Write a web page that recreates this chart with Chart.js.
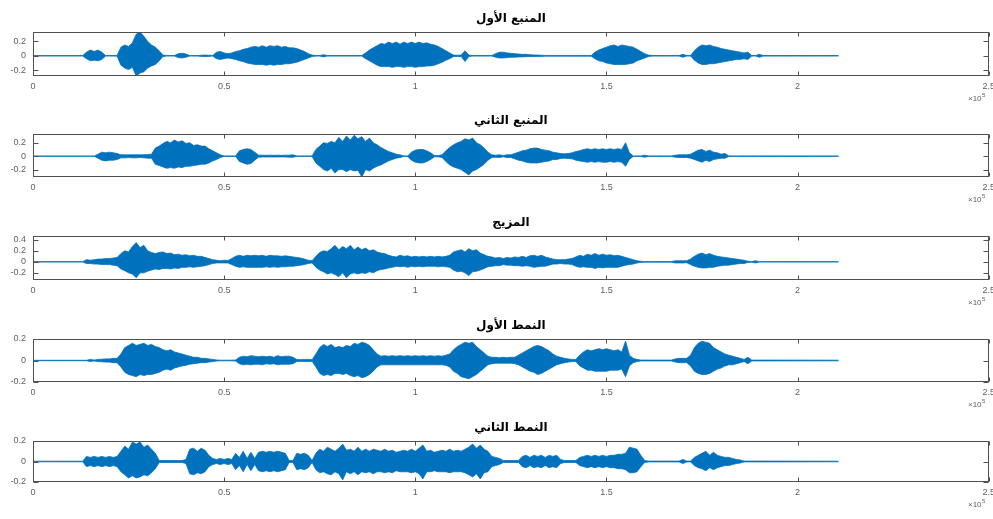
<!DOCTYPE html>
<html>
<head>
<meta charset="utf-8">
<script src="https://cdn.jsdelivr.net/npm/chart.js@4.4.1/dist/chart.umd.min.js"></script>
<style>
  html, body { margin: 0; padding: 0; background: #ffffff; overflow: hidden; width: 993px; height: 519px; }
  canvas { position: absolute; left: 0; }
</style>
</head>
<body>
<canvas id="panel0" width="1000" height="110"></canvas>
<canvas id="panel1" width="1000" height="110"></canvas>
<canvas id="panel2" width="1000" height="110"></canvas>
<canvas id="panel3" width="1000" height="110"></canvas>
<canvas id="panel4" width="1000" height="110"></canvas>
<script>
// Sample positions (x 10^5 samples) at which each waveform envelope is given.
const SAMPLE_POS = [
  0, 0.13, 0.14, 0.15, 0.16, 0.17, 0.18, 0.19,
  0.20, 0.21, 0.22, 0.23, 0.24, 0.25, 0.26, 0.27, 0.28, 0.29,
  0.30, 0.31, 0.32, 0.33, 0.34, 0.35, 0.36, 0.37, 0.38, 0.39,
  0.40, 0.41, 0.42, 0.43, 0.44, 0.45, 0.46, 0.47, 0.48, 0.49,
  0.50, 0.51, 0.52, 0.53, 0.54, 0.55, 0.56, 0.57, 0.58, 0.59,
  0.60, 0.61, 0.62, 0.63, 0.64, 0.65, 0.66, 0.67, 0.68, 0.69,
  0.70, 0.71, 0.72, 0.73, 0.74, 0.75, 0.76, 0.77, 0.78, 0.79,
  0.80, 0.81, 0.82, 0.83, 0.84, 0.85, 0.86, 0.87, 0.88, 0.89,
  0.90, 0.91, 0.92, 0.93, 0.94, 0.95, 0.96, 0.97, 0.98, 0.99,
  1.00, 1.01, 1.02, 1.03, 1.04, 1.05, 1.06, 1.07, 1.08, 1.09,
  1.10, 1.11, 1.12, 1.13, 1.14, 1.15, 1.16, 1.17, 1.18, 1.19,
  1.20, 1.21, 1.22, 1.23, 1.24, 1.25, 1.26, 1.27, 1.28, 1.29,
  1.30, 1.31, 1.32, 1.33, 1.34, 1.35, 1.36, 1.37, 1.38, 1.39,
  1.40, 1.41, 1.42, 1.43, 1.44, 1.45, 1.46, 1.47, 1.48, 1.49,
  1.50, 1.51, 1.52, 1.53, 1.54, 1.55, 1.56, 1.57, 1.58, 1.59,
  1.60, 1.61, 1.62, 1.63, 1.64, 1.65, 1.66, 1.67, 1.68, 1.69,
  1.70, 1.71, 1.72, 1.73, 1.74, 1.75, 1.76, 1.77, 1.78, 1.79,
  1.80, 1.81, 1.82, 1.83, 1.84, 1.85, 1.86, 1.87, 1.88, 1.89,
  1.90, 1.91, 2.107
];

// Source 1: upper / lower envelope
const SOURCE1_HI = [
  0.003, 0.003, 0.05, 0.08, 0.06, 0.08, 0.05, 0.004,
  0.004, 0.004, 0.005, 0.12, 0.15, 0.13, 0.18, 0.30, 0.33, 0.27,
  0.20, 0.15, 0.12, 0.07, 0.01, 0.004, 0.004, 0.004, 0.03, 0.035,
  0.025, 0.004, 0.004, 0.004, 0.008, 0.01, 0.008, 0.004, 0.05, 0.06,
  0.04, 0.03, 0.04, 0.06, 0.07, 0.09, 0.10, 0.12, 0.13, 0.12,
  0.14, 0.12, 0.14, 0.13, 0.14, 0.12, 0.13, 0.11, 0.11, 0.10,
  0.08, 0.06, 0.03, 0.01, 0.004, 0.004, 0.015, 0.004, 0.004, 0.004,
  0.004, 0.004, 0.004, 0.004, 0.004, 0.004, 0.004, 0.04, 0.08, 0.11,
  0.14, 0.17, 0.16, 0.19, 0.17, 0.19, 0.16, 0.19, 0.17, 0.19,
  0.17, 0.19, 0.17, 0.18, 0.16, 0.15, 0.13, 0.10, 0.07, 0.04,
  0.01, 0.008, 0.01, 0.07, 0.01, 0.004, 0.004, 0.004, 0.004, 0.004,
  0.004, 0.03, 0.05, 0.05, 0.04, 0.035, 0.03, 0.025, 0.02, 0.02,
  0.015, 0.012, 0.01, 0.008, 0.005, 0.005, 0.005, 0.005, 0.005, 0.005,
  0.005, 0.005, 0.005, 0.005, 0.005, 0.005, 0.005, 0.05, 0.08, 0.10,
  0.12, 0.14, 0.15, 0.13, 0.15, 0.14, 0.13, 0.12, 0.09, 0.06,
  0.03, 0.01, 0.004, 0.004, 0.004, 0.004, 0.004, 0.004, 0.004, 0.004,
  0.02, 0.004, 0.004, 0.07, 0.12, 0.15, 0.14, 0.15, 0.13, 0.12,
  0.10, 0.09, 0.08, 0.07, 0.06, 0.05, 0.04, 0.05, 0.004, 0.004,
  0.02, 0.004, 0.003
];
const SOURCE1_LO = [
  -0.003, -0.003, -0.04, -0.07, -0.06, -0.07, -0.05, -0.004,
  -0.004, -0.004, -0.005, -0.13, -0.17, -0.19, -0.16, -0.28, -0.24, -0.22,
  -0.17, -0.14, -0.12, -0.07, -0.01, -0.004, -0.004, -0.004, -0.025, -0.03,
  -0.02, -0.004, -0.004, -0.004, -0.008, -0.01, -0.008, -0.004, -0.04, -0.05,
  -0.04, -0.03, -0.04, -0.05, -0.07, -0.08, -0.10, -0.11, -0.12, -0.12,
  -0.12, -0.13, -0.12, -0.13, -0.12, -0.12, -0.11, -0.11, -0.10, -0.09,
  -0.07, -0.05, -0.03, -0.01, -0.004, -0.004, -0.015, -0.004, -0.004, -0.004,
  -0.004, -0.004, -0.004, -0.004, -0.004, -0.004, -0.004, -0.04, -0.07, -0.10,
  -0.13, -0.15, -0.15, -0.15, -0.16, -0.15, -0.15, -0.16, -0.15, -0.15,
  -0.16, -0.15, -0.15, -0.14, -0.14, -0.13, -0.11, -0.09, -0.06, -0.04,
  -0.01, -0.008, -0.01, -0.08, -0.01, -0.004, -0.004, -0.004, -0.004, -0.004,
  -0.004, -0.02, -0.03, -0.03, -0.025, -0.02, -0.02, -0.015, -0.015, -0.012,
  -0.01, -0.01, -0.008, -0.008, -0.005, -0.005, -0.005, -0.005, -0.005, -0.005,
  -0.005, -0.005, -0.005, -0.005, -0.005, -0.005, -0.005, -0.04, -0.07, -0.08,
  -0.10, -0.11, -0.12, -0.12, -0.12, -0.12, -0.11, -0.10, -0.07, -0.05,
  -0.03, -0.01, -0.004, -0.004, -0.004, -0.004, -0.004, -0.004, -0.004, -0.004,
  -0.02, -0.004, -0.004, -0.06, -0.10, -0.12, -0.12, -0.11, -0.11, -0.10,
  -0.09, -0.08, -0.07, -0.06, -0.05, -0.05, -0.04, -0.05, -0.004, -0.004,
  -0.02, -0.004, -0.003
];

// Source 2
const SOURCE2_HI = [
  0.003, 0.003, 0.003, 0.003, 0.003, 0.03, 0.06, 0.05,
  0.06, 0.05, 0.04, 0.02, 0.02, 0.02, 0.02, 0.02, 0.02, 0.02,
  0.025, 0.03, 0.12, 0.15, 0.19, 0.22, 0.20, 0.24, 0.21, 0.23,
  0.19, 0.20, 0.16, 0.17, 0.15, 0.15, 0.11, 0.08, 0.05, 0.02,
  0.004, 0.004, 0.004, 0.004, 0.08, 0.10, 0.11, 0.10, 0.06, 0.015,
  0.015, 0.012, 0.015, 0.012, 0.015, 0.012, 0.015, 0.015, 0.02, 0.004,
  0.004, 0.004, 0.004, 0.004, 0.10, 0.15, 0.20, 0.19, 0.22, 0.20,
  0.28, 0.22, 0.30, 0.24, 0.31, 0.26, 0.29, 0.22, 0.27, 0.20,
  0.17, 0.13, 0.10, 0.07, 0.05, 0.03, 0.02, 0.004, 0.004, 0.06,
  0.09, 0.10, 0.10, 0.08, 0.05, 0.01, 0.01, 0.02, 0.08, 0.13,
  0.17, 0.20, 0.22, 0.26, 0.24, 0.27, 0.20, 0.17, 0.12, 0.06,
  0.02, 0.015, 0.02, 0.01, 0.02, 0.02, 0.04, 0.06, 0.08, 0.09,
  0.11, 0.12, 0.12, 0.10, 0.09, 0.08, 0.06, 0.05, 0.04, 0.035,
  0.04, 0.05, 0.07, 0.08, 0.10, 0.11, 0.10, 0.11, 0.10, 0.11,
  0.10, 0.11, 0.10, 0.11, 0.10, 0.20, 0.05, 0.004, 0.004, 0.004,
  0.015, 0.004, 0.004, 0.004, 0.004, 0.004, 0.004, 0.004, 0.015, 0.02,
  0.02, 0.02, 0.03, 0.06, 0.09, 0.10, 0.07, 0.09, 0.06, 0.05,
  0.03, 0.04, 0.004, 0.004, 0.004, 0.004, 0.004, 0.004, 0.004, 0.004,
  0.004, 0.004, 0.003
];
const SOURCE2_LO = [
  -0.003, -0.003, -0.003, -0.003, -0.003, -0.03, -0.06, -0.07,
  -0.06, -0.06, -0.05, -0.025, -0.025, -0.02, -0.025, -0.025, -0.02, -0.025,
  -0.03, -0.03, -0.12, -0.14, -0.16, -0.18, -0.17, -0.18, -0.16, -0.17,
  -0.15, -0.15, -0.14, -0.13, -0.12, -0.12, -0.10, -0.07, -0.05, -0.02,
  -0.004, -0.004, -0.004, -0.004, -0.08, -0.10, -0.12, -0.11, -0.06, -0.015,
  -0.012, -0.012, -0.012, -0.012, -0.012, -0.012, -0.012, -0.015, -0.015, -0.004,
  -0.004, -0.004, -0.004, -0.004, -0.10, -0.15, -0.20, -0.22, -0.18, -0.25,
  -0.20, -0.20, -0.23, -0.20, -0.22, -0.21, -0.31, -0.20, -0.22, -0.18,
  -0.15, -0.13, -0.10, -0.07, -0.05, -0.03, -0.02, -0.004, -0.004, -0.06,
  -0.09, -0.10, -0.10, -0.08, -0.05, -0.01, -0.01, -0.02, -0.08, -0.13,
  -0.16, -0.18, -0.20, -0.24, -0.28, -0.22, -0.20, -0.16, -0.12, -0.06,
  -0.02, -0.015, -0.02, -0.01, -0.02, -0.02, -0.04, -0.06, -0.07, -0.09,
  -0.10, -0.10, -0.10, -0.09, -0.08, -0.07, -0.05, -0.05, -0.035, -0.03,
  -0.035, -0.04, -0.06, -0.07, -0.08, -0.09, -0.08, -0.09, -0.08, -0.09,
  -0.09, -0.08, -0.09, -0.08, -0.09, -0.15, -0.05, -0.004, -0.004, -0.004,
  -0.015, -0.004, -0.004, -0.004, -0.004, -0.004, -0.004, -0.004, -0.015, -0.02,
  -0.02, -0.02, -0.03, -0.05, -0.07, -0.09, -0.06, -0.08, -0.05, -0.04,
  -0.03, -0.03, -0.004, -0.004, -0.004, -0.004, -0.004, -0.004, -0.004, -0.004,
  -0.004, -0.004, -0.003
];

// Mixture
const MIXTURE_HI = [
  0.003, 0.003, 0.04, 0.03, 0.04, 0.05, 0.05, 0.06,
  0.06, 0.07, 0.08, 0.15, 0.20, 0.18, 0.28, 0.35, 0.26, 0.30,
  0.20, 0.17, 0.15, 0.17, 0.18, 0.15, 0.16, 0.13, 0.14, 0.12,
  0.13, 0.11, 0.12, 0.10, 0.10, 0.08, 0.06, 0.04, 0.03, 0.02,
  0.03, 0.025, 0.06, 0.10, 0.12, 0.10, 0.12, 0.11, 0.12, 0.11,
  0.12, 0.10, 0.12, 0.11, 0.11, 0.10, 0.11, 0.10, 0.09, 0.08,
  0.07, 0.05, 0.03, 0.02, 0.10, 0.17, 0.20, 0.19, 0.24, 0.30,
  0.22, 0.28, 0.24, 0.30, 0.22, 0.27, 0.22, 0.25, 0.20, 0.22,
  0.18, 0.16, 0.15, 0.12, 0.10, 0.09, 0.12, 0.10, 0.11, 0.09,
  0.10, 0.09, 0.10, 0.09, 0.10, 0.09, 0.10, 0.09, 0.10, 0.12,
  0.18, 0.20, 0.22, 0.18, 0.24, 0.20, 0.22, 0.16, 0.13, 0.10,
  0.09, 0.07, 0.08, 0.06, 0.08, 0.07, 0.09, 0.08, 0.10, 0.08,
  0.11, 0.12, 0.10, 0.12, 0.09, 0.07, 0.05, 0.04, 0.04, 0.04,
  0.05, 0.06, 0.09, 0.12, 0.10, 0.14, 0.12, 0.15, 0.12, 0.14,
  0.12, 0.13, 0.11, 0.12, 0.10, 0.08, 0.06, 0.04, 0.02, 0.01,
  0.005, 0.005, 0.005, 0.005, 0.005, 0.005, 0.005, 0.005, 0.02, 0.02,
  0.02, 0.02, 0.05, 0.10, 0.14, 0.16, 0.13, 0.15, 0.12, 0.10,
  0.09, 0.08, 0.07, 0.06, 0.05, 0.04, 0.03, 0.01, 0.005, 0.02,
  0.004, 0.004, 0.003
];
const MIXTURE_LO = [
  -0.003, -0.003, -0.03, -0.03, -0.04, -0.04, -0.05, -0.05,
  -0.05, -0.06, -0.07, -0.13, -0.16, -0.20, -0.22, -0.29, -0.20, -0.20,
  -0.17, -0.15, -0.13, -0.14, -0.12, -0.12, -0.13, -0.11, -0.12, -0.10,
  -0.10, -0.09, -0.10, -0.09, -0.08, -0.07, -0.05, -0.03, -0.02, -0.02,
  -0.02, -0.02, -0.05, -0.08, -0.10, -0.09, -0.10, -0.10, -0.10, -0.10,
  -0.10, -0.09, -0.10, -0.09, -0.10, -0.09, -0.09, -0.08, -0.08, -0.07,
  -0.06, -0.05, -0.03, -0.02, -0.10, -0.15, -0.18, -0.22, -0.20, -0.23,
  -0.27, -0.20, -0.29, -0.22, -0.20, -0.22, -0.20, -0.21, -0.18, -0.20,
  -0.16, -0.14, -0.13, -0.11, -0.10, -0.08, -0.09, -0.08, -0.10, -0.08,
  -0.09, -0.08, -0.09, -0.08, -0.08, -0.08, -0.09, -0.08, -0.09, -0.10,
  -0.15, -0.18, -0.17, -0.20, -0.25, -0.18, -0.17, -0.15, -0.12, -0.09,
  -0.08, -0.07, -0.07, -0.05, -0.06, -0.06, -0.07, -0.07, -0.08, -0.07,
  -0.08, -0.10, -0.09, -0.08, -0.08, -0.06, -0.04, -0.04, -0.03, -0.04,
  -0.04, -0.05, -0.08, -0.10, -0.09, -0.10, -0.10, -0.12, -0.10, -0.11,
  -0.10, -0.10, -0.10, -0.10, -0.08, -0.06, -0.05, -0.04, -0.02, -0.01,
  -0.005, -0.005, -0.005, -0.005, -0.005, -0.005, -0.005, -0.005, -0.02, -0.02,
  -0.02, -0.015, -0.05, -0.08, -0.10, -0.11, -0.11, -0.10, -0.10, -0.08,
  -0.07, -0.06, -0.06, -0.05, -0.04, -0.03, -0.03, -0.01, -0.005, -0.02,
  -0.004, -0.004, -0.003
];

// Pattern 1
const PATTERN1_HI = [
  0.002, 0.002, 0.002, 0.01, 0.004, 0.01, 0.012, 0.015,
  0.015, 0.02, 0.02, 0.06, 0.12, 0.14, 0.16, 0.14, 0.15, 0.16,
  0.14, 0.15, 0.13, 0.12, 0.10, 0.09, 0.10, 0.08, 0.07, 0.06,
  0.05, 0.04, 0.03, 0.03, 0.02, 0.02, 0.015, 0.01, 0.005, 0.003,
  0.003, 0.003, 0.003, 0.005, 0.03, 0.04, 0.035, 0.045, 0.04, 0.035,
  0.04, 0.035, 0.04, 0.03, 0.045, 0.035, 0.04, 0.04, 0.03, 0.01,
  0.008, 0.01, 0.01, 0.008, 0.06, 0.12, 0.15, 0.13, 0.15, 0.12,
  0.13, 0.12, 0.14, 0.13, 0.16, 0.15, 0.17, 0.16, 0.14, 0.10,
  0.06, 0.04, 0.045, 0.04, 0.045, 0.04, 0.045, 0.04, 0.045, 0.04,
  0.045, 0.04, 0.045, 0.04, 0.045, 0.04, 0.045, 0.04, 0.05, 0.06,
  0.10, 0.13, 0.15, 0.17, 0.16, 0.17, 0.13, 0.10, 0.07, 0.04,
  0.03, 0.03, 0.025, 0.03, 0.025, 0.03, 0.03, 0.05, 0.07, 0.09,
  0.11, 0.13, 0.14, 0.13, 0.11, 0.09, 0.06, 0.04, 0.03, 0.02,
  0.015, 0.01, 0.01, 0.05, 0.08, 0.10, 0.09, 0.10, 0.11, 0.10,
  0.11, 0.10, 0.09, 0.10, 0.08, 0.18, 0.05, 0.02, 0.01, 0.004,
  0.004, 0.004, 0.004, 0.004, 0.004, 0.004, 0.004, 0.004, 0.015, 0.02,
  0.02, 0.02, 0.05, 0.12, 0.16, 0.18, 0.17, 0.16, 0.12, 0.10,
  0.08, 0.06, 0.05, 0.04, 0.03, 0.02, 0.01, 0.03, 0.004, 0.004,
  0.004, 0.004, 0.003
];
const PATTERN1_LO = [
  -0.002, -0.002, -0.002, -0.01, -0.004, -0.01, -0.012, -0.015,
  -0.015, -0.02, -0.02, -0.06, -0.11, -0.13, -0.14, -0.15, -0.13, -0.14,
  -0.13, -0.13, -0.12, -0.11, -0.09, -0.08, -0.09, -0.07, -0.06, -0.05,
  -0.045, -0.035, -0.03, -0.025, -0.02, -0.02, -0.015, -0.01, -0.005, -0.003,
  -0.003, -0.003, -0.003, -0.005, -0.03, -0.04, -0.035, -0.04, -0.035, -0.035,
  -0.04, -0.03, -0.035, -0.03, -0.04, -0.035, -0.035, -0.035, -0.03, -0.01,
  -0.008, -0.01, -0.01, -0.008, -0.06, -0.12, -0.14, -0.13, -0.14, -0.12,
  -0.12, -0.13, -0.12, -0.14, -0.15, -0.14, -0.16, -0.15, -0.13, -0.10,
  -0.06, -0.04, -0.04, -0.04, -0.04, -0.04, -0.04, -0.04, -0.04, -0.04,
  -0.04, -0.04, -0.04, -0.04, -0.04, -0.04, -0.04, -0.04, -0.045, -0.06,
  -0.10, -0.12, -0.15, -0.16, -0.17, -0.15, -0.13, -0.10, -0.07, -0.04,
  -0.03, -0.025, -0.025, -0.025, -0.025, -0.025, -0.03, -0.04, -0.06, -0.08,
  -0.10, -0.11, -0.13, -0.12, -0.10, -0.08, -0.06, -0.04, -0.03, -0.02,
  -0.015, -0.01, -0.01, -0.05, -0.07, -0.09, -0.09, -0.10, -0.10, -0.10,
  -0.10, -0.09, -0.09, -0.09, -0.08, -0.15, -0.05, -0.02, -0.01, -0.004,
  -0.004, -0.004, -0.004, -0.004, -0.004, -0.004, -0.004, -0.004, -0.015, -0.02,
  -0.02, -0.02, -0.05, -0.10, -0.12, -0.13, -0.13, -0.12, -0.10, -0.08,
  -0.07, -0.05, -0.04, -0.04, -0.03, -0.02, -0.01, -0.03, -0.004, -0.004,
  -0.004, -0.004, -0.003
];

// Pattern 2
const PATTERN2_HI = [
  0.003, 0.003, 0.05, 0.04, 0.05, 0.04, 0.05, 0.04,
  0.05, 0.04, 0.05, 0.10, 0.15, 0.12, 0.19, 0.17, 0.19, 0.14,
  0.16, 0.12, 0.08, 0.01, 0.01, 0.01, 0.01, 0.01, 0.01, 0.01,
  0.02, 0.12, 0.13, 0.10, 0.13, 0.11, 0.06, 0.03, 0.02, 0.03,
  0.02, 0.03, 0.02, 0.08, 0.04, 0.10, 0.03, 0.09, 0.03, 0.09,
  0.10, 0.09, 0.10, 0.09, 0.10, 0.09, 0.08, 0.01, 0.01, 0.08,
  0.07, 0.08, 0.06, 0.01, 0.08, 0.12, 0.10, 0.14, 0.12, 0.10,
  0.13, 0.17, 0.11, 0.12, 0.10, 0.14, 0.10, 0.12, 0.10, 0.12,
  0.11, 0.10, 0.12, 0.10, 0.11, 0.09, 0.10, 0.11, 0.10, 0.12,
  0.10, 0.13, 0.16, 0.10, 0.11, 0.09, 0.10, 0.11, 0.10, 0.12,
  0.10, 0.11, 0.10, 0.12, 0.14, 0.17, 0.13, 0.16, 0.12, 0.10,
  0.05, 0.04, 0.03, 0.01, 0.01, 0.01, 0.01, 0.01, 0.05, 0.06,
  0.04, 0.06, 0.05, 0.06, 0.04, 0.06, 0.05, 0.06, 0.02, 0.01,
  0.01, 0.01, 0.01, 0.04, 0.05, 0.06, 0.05, 0.06, 0.05, 0.06,
  0.05, 0.06, 0.06, 0.07, 0.07, 0.08, 0.14, 0.13, 0.12, 0.06,
  0.01, 0.004, 0.004, 0.004, 0.004, 0.004, 0.004, 0.004, 0.004, 0.004,
  0.02, 0.004, 0.004, 0.04, 0.06, 0.08, 0.10, 0.06, 0.09, 0.06,
  0.05, 0.04, 0.04, 0.03, 0.02, 0.015, 0.004, 0.004, 0.004, 0.004,
  0.004, 0.004, 0.003
];
const PATTERN2_LO = [
  -0.003, -0.003, -0.05, -0.04, -0.05, -0.04, -0.05, -0.04,
  -0.05, -0.04, -0.05, -0.10, -0.13, -0.16, -0.14, -0.16, -0.15, -0.13,
  -0.14, -0.11, -0.07, -0.01, -0.01, -0.01, -0.01, -0.01, -0.01, -0.01,
  -0.02, -0.12, -0.13, -0.11, -0.12, -0.10, -0.05, -0.03, -0.02, -0.03,
  -0.02, -0.03, -0.02, -0.08, -0.04, -0.10, -0.03, -0.09, -0.03, -0.09,
  -0.10, -0.09, -0.10, -0.09, -0.10, -0.09, -0.08, -0.01, -0.01, -0.08,
  -0.07, -0.08, -0.06, -0.01, -0.08, -0.11, -0.10, -0.12, -0.13, -0.10,
  -0.12, -0.18, -0.10, -0.12, -0.10, -0.13, -0.10, -0.11, -0.10, -0.12,
  -0.10, -0.10, -0.11, -0.10, -0.11, -0.09, -0.10, -0.10, -0.10, -0.11,
  -0.10, -0.12, -0.17, -0.10, -0.10, -0.09, -0.10, -0.10, -0.10, -0.11,
  -0.10, -0.10, -0.10, -0.11, -0.13, -0.15, -0.12, -0.17, -0.11, -0.10,
  -0.05, -0.04, -0.03, -0.01, -0.01, -0.01, -0.01, -0.01, -0.05, -0.06,
  -0.04, -0.06, -0.05, -0.06, -0.04, -0.06, -0.05, -0.06, -0.02, -0.01,
  -0.01, -0.01, -0.01, -0.04, -0.05, -0.06, -0.05, -0.06, -0.05, -0.06,
  -0.05, -0.06, -0.06, -0.07, -0.07, -0.08, -0.11, -0.11, -0.10, -0.05,
  -0.01, -0.004, -0.004, -0.004, -0.004, -0.004, -0.004, -0.004, -0.004, -0.004,
  -0.02, -0.004, -0.004, -0.04, -0.06, -0.07, -0.09, -0.06, -0.08, -0.06,
  -0.05, -0.04, -0.04, -0.03, -0.02, -0.015, -0.004, -0.004, -0.004, -0.004,
  -0.004, -0.004, -0.003
];

const PANEL_TITLES = ['المنبع الأول', 'المنبع الثاني', 'المزيج', 'النمط الأول', 'النمط الثاني'];
const Y_LIMITS = [[-0.28, 0.33], [-0.31, 0.33], [-0.33, 0.47], [-0.2, 0.2], [-0.2, 0.2]];
const Y_TICKS = [[-0.2, 0, 0.2], [-0.2, 0, 0.2], [-0.2, 0, 0.2, 0.4], [-0.2, 0, 0.2], [-0.2, 0, 0.2]];
const X_TICKS = [0, 0.5, 1, 1.5, 2, 2.5];
const X_LIMITS = [0, 2.5];
const X_EXPONENT = '5';

const ENVELOPES = [
  [SOURCE1_HI, SOURCE1_LO],
  [SOURCE2_HI, SOURCE2_LO],
  [MIXTURE_HI, MIXTURE_LO],
  [PATTERN1_HI, PATTERN1_LO],
  [PATTERN2_HI, PATTERN2_LO]
];

// Page layout
const CANVAS_TOPS = [0, 102, 204, 307, 409];
const BOX_HEIGHTS = [44, 43, 44, 43, 41];
const CANVAS_H = 110;
const TITLE_BLOCK = 32;
const AXIS_LEFT = 33;
const WAVE_BLUE = '#0072BD';
const FRAME_COLOR = '#505050';
const LABEL_COLOR = '#5e5e5e';

// Box around each axes with inward tick marks and the x10^n multiplier
const axesFrame = {
  id: 'axesFrame',
  afterDatasetsDraw(chart) {
    const { ctx, chartArea: a } = chart;
    const xs = chart.scales.x, ys = chart.scales.y;
    const L = Math.round(a.left) + 0.5, R = Math.round(a.right) - 0.5;
    const T = Math.round(a.top) + 0.5, B = Math.round(a.bottom) - 0.5;
    ctx.save();
    ctx.strokeStyle = FRAME_COLOR;
    ctx.lineWidth = 1;
    ctx.strokeRect(L, T, R - L, B - T);
    ctx.beginPath();
    xs.ticks.forEach(t => {
      const px = Math.round(xs.getPixelForValue(t.value)) + 0.5;
      ctx.moveTo(px, B); ctx.lineTo(px, B - 4);
      ctx.moveTo(px, T); ctx.lineTo(px, T + 4);
    });
    ys.ticks.forEach(t => {
      const py = Math.round(ys.getPixelForValue(t.value)) + 0.5;
      ctx.moveTo(L, py); ctx.lineTo(L + 5, py);
      ctx.moveTo(R, py); ctx.lineTo(R - 5, py);
    });
    ctx.stroke();
    ctx.fillStyle = LABEL_COLOR;
    ctx.textAlign = 'left';
    ctx.textBaseline = 'alphabetic';
    ctx.font = '8px "Liberation Sans", Arial, sans-serif';
    const ex = 968, ey = a.bottom + 25;
    ctx.fillText('\u00d710', ex, ey);
    const w = ctx.measureText('\u00d710').width;
    ctx.font = '6px "Liberation Sans", Arial, sans-serif';
    ctx.fillText(X_EXPONENT, ex + w + 0.5, ey - 4);
    ctx.restore();
  }
};

PANEL_TITLES.forEach((title, i) => {
  const canvas = document.getElementById('panel' + i);
  canvas.style.top = CANVAS_TOPS[i] + 'px';
  const [hi, lo] = ENVELOPES[i];
  const boxH = BOX_HEIGHTS[i];
  const lineStyle = {
    borderColor: WAVE_BLUE,
    backgroundColor: WAVE_BLUE,
    borderWidth: 0.8,
    pointRadius: 0,
    tension: 0
  };
  new Chart(canvas.getContext('2d'), {
    type: 'line',
    data: {
      datasets: [
        Object.assign({ data: SAMPLE_POS.map((x, k) => ({ x, y: hi[k] })), fill: '+1' }, lineStyle),
        Object.assign({ data: SAMPLE_POS.map((x, k) => ({ x, y: lo[k] })), fill: false }, lineStyle)
      ]
    },
    options: {
      responsive: false,
      animation: false,
      devicePixelRatio: 1,
      events: [],
      layout: { padding: { left: 0, right: 10, top: 0, bottom: 0 } },
      plugins: {
        legend: { display: false },
        tooltip: { enabled: false },
        title: {
          display: true,
          text: title,
          fullSize: false,
          color: '#000000',
          font: { family: '"DejaVu Sans", sans-serif', size: 12, weight: 'bold', lineHeight: 1.2 },
          padding: { top: 12, bottom: 5.6 }
        }
      },
      scales: {
        x: {
          type: 'linear',
          min: X_LIMITS[0],
          max: X_LIMITS[1],
          grid: { display: false, drawTicks: false },
          border: { display: false },
          ticks: {
            padding: 5,
            maxRotation: 0,
            autoSkip: false,
            color: LABEL_COLOR,
            font: { family: '"Liberation Sans", Arial, sans-serif', size: 9 },
            callback: v => String(v)
          },
          afterBuildTicks: s => { s.ticks = X_TICKS.map(v => ({ value: v })); },
          afterFit: s => { s.height = CANVAS_H - TITLE_BLOCK - boxH; }
        },
        y: {
          type: 'linear',
          min: Y_LIMITS[i][0],
          max: Y_LIMITS[i][1],
          grid: { display: false, drawTicks: false },
          border: { display: false },
          ticks: {
            padding: 7,
            autoSkip: false,
            color: LABEL_COLOR,
            font: { family: '"Liberation Sans", Arial, sans-serif', size: 9 },
            callback: v => String(v)
          },
          afterBuildTicks: s => { s.ticks = Y_TICKS[i].map(v => ({ value: v })); },
          afterFit: s => { s.width = AXIS_LEFT; }
        }
      }
    },
    plugins: [axesFrame]
  });
});
</script>
</body>
</html>
